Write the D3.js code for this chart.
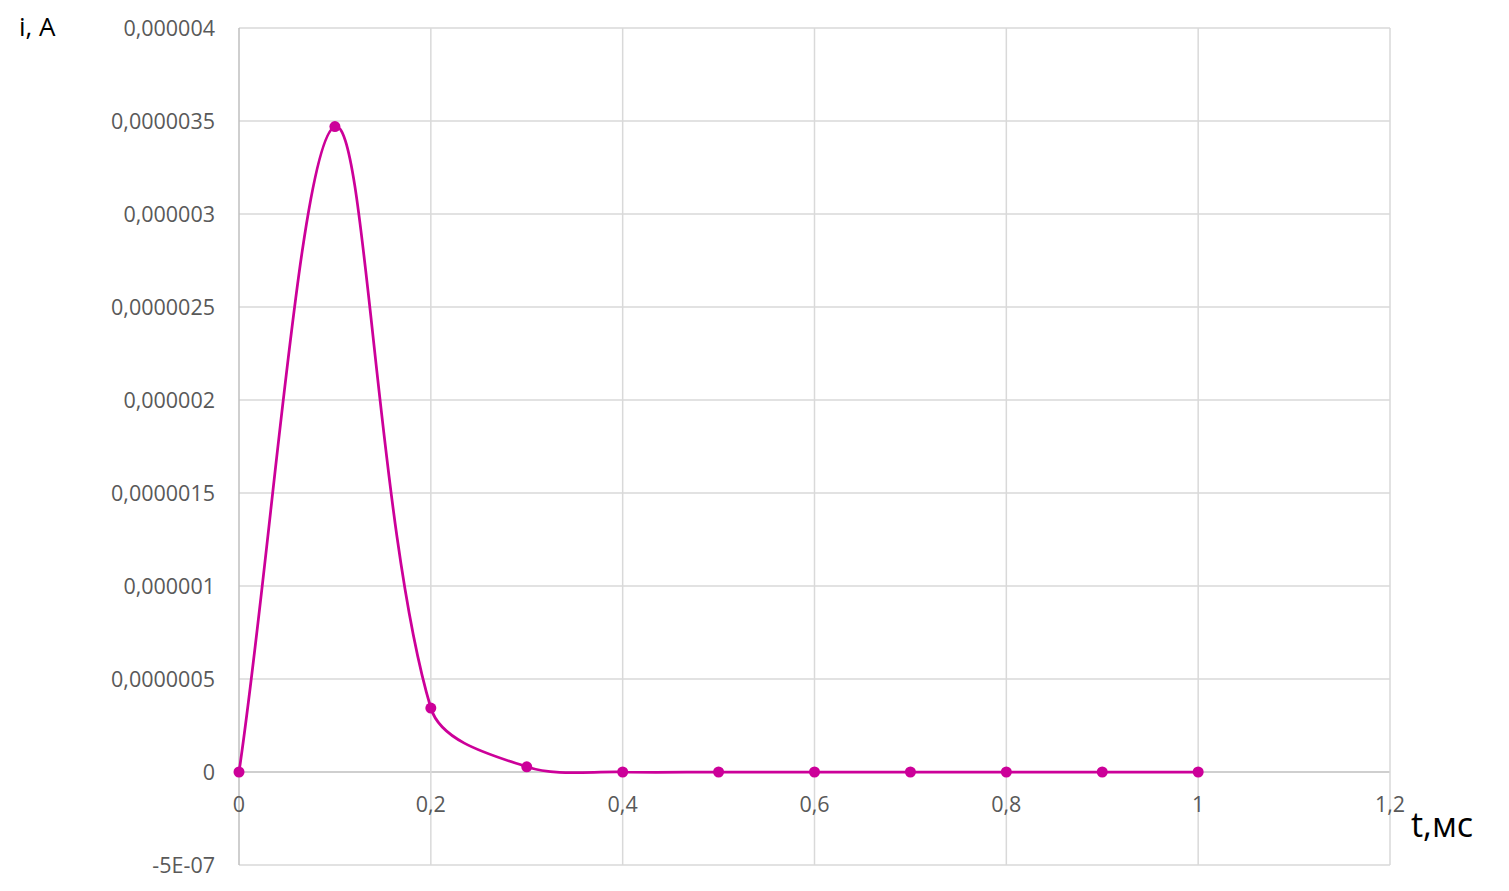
<!DOCTYPE html>
<html><head><meta charset="utf-8">
<script src="https://cdn.jsdelivr.net/npm/d3@7"></script>
<style>body{margin:0;background:#fff}</style>
</head><body>
<svg id="c" width="1509" height="891"></svg>
<script>
const times = [0, 0.1, 0.2, 0.3, 0.4, 0.5, 0.6, 0.7, 0.8, 0.9, 1];
const current = [0, 3.47e-6, 3.44e-7, 2.8e-8, 0, 0, 0, 0, 0, 0, 0];
const xTicks = [0, 0.2, 0.4, 0.6, 0.8, 1, 1.2];
const yTicks = [-5e-7, 0, 5e-7, 1e-6, 1.5e-6, 2e-6, 2.5e-6, 3e-6, 3.5e-6, 4e-6];
const yTickLabels = ["-5E-07","0","0,0000005","0,000001","0,0000015","0,000002","0,0000025","0,000003","0,0000035","0,000004"];
const xTickLabels = ["0","0,2","0,4","0,6","0,8","1","1,2"];

const svg = d3.select("#c");
const L = 239, R = 1390, T = 28, B = 865;
const x = d3.scaleLinear().domain([0, 1.2]).range([L, R]);
const y = d3.scaleLinear().domain([-5e-7, 4e-6]).range([B, T]);
const font = "'Open Sans', sans-serif";

// grid
svg.append("g").selectAll("line").data(yTicks).join("line")
  .attr("x1", L).attr("x2", R).attr("y1", d => y(d)).attr("y2", d => y(d))
  .attr("stroke", d => d === 0 ? "#bfbfbf" : "#d9d9d9").attr("stroke-width", 1.5);
svg.append("g").selectAll("line").data(xTicks).join("line")
  .attr("y1", T).attr("y2", B).attr("x1", d => x(d)).attr("x2", d => x(d))
  .attr("stroke", d => d === 0 ? "#bfbfbf" : "#d9d9d9").attr("stroke-width", 1.5);

// y labels
svg.append("g").selectAll("text").data(yTicks).join("text")
  .attr("x", 215).attr("y", d => y(d)).attr("dy", "0.35em")
  .attr("text-anchor", "end").attr("font-family", font).attr("font-size", 21.5)
  .attr("fill", "#595959").text((d, i) => yTickLabels[i]);
// x labels
svg.append("g").selectAll("text").data(xTicks).join("text")
  .attr("x", d => x(d)).attr("y", y(0) + 40)
  .attr("text-anchor", "middle").attr("font-family", font).attr("font-size", 21.5)
  .attr("fill", "#595959").text((d, i) => xTickLabels[i]);

// axis titles
svg.append("text").attr("x", 19).attr("y", 36).attr("font-family", font)
  .attr("font-size", 26).attr("fill", "#000").text("i, A");
svg.append("text").attr("x", 1411).attr("y", 837).attr("font-family", font)
  .attr("font-size", 34).attr("fill", "#000").text("t,мс");

// Excel-like smoothing: Bezier control points scaled by neighbouring segment lengths (screen space)
const P = times.map((t, i) => [x(t), y(current[i])]);
const dist = (a, b) => Math.hypot(b[0] - a[0], b[1] - a[1]);
let d = `M${P[0][0]},${P[0][1]}`;
for (let i = 0; i < P.length - 1; i++) {
  const p0 = P[i], p1 = P[i + 1];
  let c1, c2;
  if (i === 0) {
    c1 = [p0[0] + (p1[0] - p0[0]) / 3, p0[1] + (p1[1] - p0[1]) / 3];
  } else {
    const pp = P[i - 1], dp = dist(pp, p0), dn = dist(p0, p1), f = dn / (dp + dn) / 3;
    c1 = [p0[0] + (p1[0] - pp[0]) * f, p0[1] + (p1[1] - pp[1]) * f];
  }
  if (i + 2 >= P.length) {
    c2 = [p1[0] - (p1[0] - p0[0]) / 3, p1[1] - (p1[1] - p0[1]) / 3];
  } else {
    const pn = P[i + 2], dp = dist(p0, p1), dn = dist(p1, pn), f = dp / (dp + dn) / 3;
    c2 = [p1[0] - (pn[0] - p0[0]) * f, p1[1] - (pn[1] - p0[1]) * f];
  }
  d += `C${c1[0]},${c1[1]},${c2[0]},${c2[1]},${p1[0]},${p1[1]}`;
}
const color = "#cc0099";
svg.append("path").attr("d", d)
  .attr("fill", "none").attr("stroke", color).attr("stroke-width", 2.75);
svg.append("g").selectAll("circle").data(times.map((t, i) => [t, current[i]])).join("circle")
  .attr("cx", v => x(v[0])).attr("cy", v => y(v[1])).attr("r", 5.5).attr("fill", color);
</script>
</body></html>
